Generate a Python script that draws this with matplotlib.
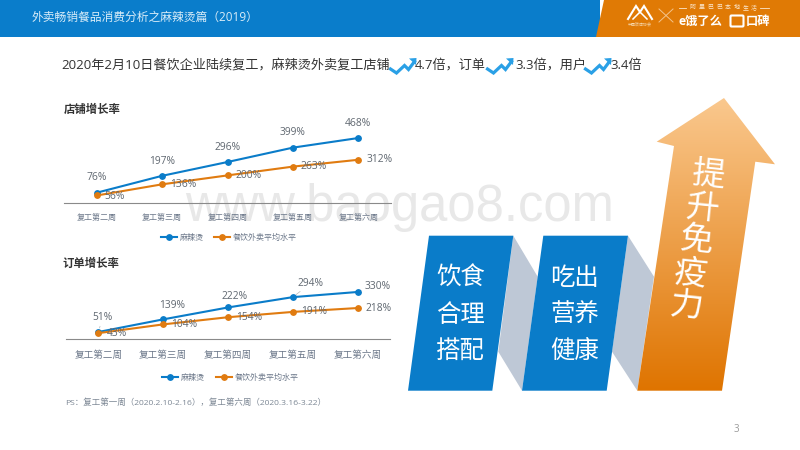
import numpy as np
import matplotlib
matplotlib.use('Agg')
import matplotlib.pyplot as plt
from matplotlib.patches import Polygon, Rectangle, FancyBboxPatch

plt.rcParams['font.family'] = ['Open Sans', 'Noto Sans CJK SC', 'DejaVu Sans']

# ---------- data ----------
weeks = ['复工第二周', '复工第三周', '复工第四周', '复工第五周', '复工第六周']
series_names = ['麻辣烫', '餐饮外卖平均水平']
store_mala = [76, 197, 296, 399, 468]
store_avg = [56, 136, 200, 263, 312]
order_mala = [51, 139, 222, 294, 330]
order_avg = [43, 104, 154, 191, 218]
stage_one = ['饮食', '合理', '搭配']
stage_two = ['吃出', '营养', '健康']
stage_three = '提升免疫力'

BLUE = '#0A7CC9'
ORANGE = '#E07B10'
HEAD_BLUE = '#0A7DCB'
HEAD_ORANGE = '#E07A05'
TEXT = '#333333'
LABEL = '#5F6770'
TICK = '#6B7789'

W, H = 800, 450
fig = plt.figure(figsize=(8, 4.5), dpi=100, facecolor='white')

# page layer in pixel coordinates
bg = fig.add_axes([0, 0, 1, 1], zorder=0)
bg.set_xlim(0, W)
bg.set_ylim(H, 0)
bg.axis('off')

def ptext(x, y, s, size, color=TEXT, ha='left', va='center', ax=bg, **kw):
    return ax.text(x, y, s, fontsize=size, color=color, ha=ha, va=va, **kw)

# watermark
ptext(400, 208, 'www.baogao8.com', 36.5, color='#E8E8E8', ha='center', family=['Liberation Sans'])

# header
bg.add_patch(Rectangle((0, 0), 600, 36.5, color=HEAD_BLUE, lw=0))
bg.add_patch(Polygon([(604, 0), (800, 0), (800, 36.5), (596, 36.5)], color=HEAD_ORANGE, lw=0))
ptext(32, 17.5, '外卖畅销餐品消费分析之麻辣烫篇（2019）', 8.5, color='#D8ECF8')

# logos
bg.plot([628, 636, 640, 644, 652], [19, 6, 12, 6, 19], color='white', lw=1.5, solid_joinstyle='miter')
bg.plot([633, 640, 647], [19, 12, 19], color='white', lw=1.1)
ptext(640, 25.5, '中国饭店协会', 2.9, color='#F6D9B0', ha='center')
bg.plot([659, 673], [9, 22], color='#F3C48C', lw=0.7)
bg.plot([659, 673], [22, 9], color='#F3C48C', lw=0.7)
for i, ch in enumerate('阿里巴巴本地生活'):
    ptext(692.5 + 8.8 * i, 7.5, ch, 4.3, color='#FBE6CC', ha='center')
bg.plot([679, 686], [7.5, 7.5], color='#FBE6CC', lw=0.6)
bg.plot([760, 769], [7.5, 7.5], color='#FBE6CC', lw=0.6)
ptext(678.5, 21, 'e饿了么', 8.8, color='white', weight='bold')
bg.add_patch(FancyBboxPatch((731.5, 16.5), 11, 9, boxstyle='round,pad=1', fc='none', ec='white', lw=1.5))
ptext(746, 21, '口碑', 8.8, color='white', weight='bold')

# headline with trend icons
headline_y = 65.5
ptext(61, headline_y, '2020年2月10日餐饮企业陆续复工，麻辣烫外卖复工店铺', 9.45)
ptext(415, headline_y, '4.7倍，订单', 9.45)
ptext(515, headline_y, '3.3倍，用户', 9.45)
ptext(610.7, headline_y, '3.4倍', 9.45)

def trend_icon(x0, y0):
    xs = np.array([0, 6, 14, 18, 24]) + x0
    ys = np.array([11, 15, 7.5, 11.5, 3.5]) + y0
    bg.plot(xs, ys, color='#2AA0E6', lw=2.3, solid_joinstyle='miter')
    bg.add_patch(Polygon([(x0 + 18.5, y0 + 0.5), (x0 + 26, y0), (x0 + 25.5, y0 + 7)], color='#2AA0E6', lw=0))

trend_icon(390.5, 58)
trend_icon(487.5, 58)
trend_icon(585.5, 58)

ptext(64, 110, '店铺增长率', 8.2, weight='bold')
ptext(62, 264, '订单增长率', 8.2, weight='bold')
ptext(65, 403, 'PS：复工第一周（2020.2.10-2.16），复工第六周（2020.3.16-3.22）', 6.1, color='#7C8794')
ptext(736, 429.5, '3', 7, color='#9A9A9A', ha='center')

# stage blocks
bg.add_patch(Polygon([(513.3, 235.7), (537.7, 276.7), (522, 390.7), (498.3, 351.7)], color='#BEC8D6', lw=0, zorder=2))
bg.add_patch(Polygon([(628, 235.7), (654, 276.7), (637.3, 390.7), (612, 351.7)], color='#BEC8D6', lw=0, zorder=2))
bg.add_patch(Polygon([(429, 235.7), (513.3, 235.7), (492.3, 390.7), (408, 390.7)], color=BLUE, lw=0, zorder=3))
bg.add_patch(Polygon([(543.3, 235.7), (628, 235.7), (606.7, 390.7), (522, 390.7)], color=BLUE, lw=0, zorder=3))

# gradient arrow
arrow = Polygon([(724, 98), (656.7, 141.7), (674, 146), (637.3, 390.7), (722, 390.7),
                 (755.3, 161.7), (775, 164.3)], closed=True, fc='none', ec='none',
                transform=bg.transData)
bg.add_patch(arrow)
top = np.array([250, 200, 142]) / 255
bot = np.array([223, 116, 0]) / 255
t = np.linspace(0, 1, 256)[:, None, None]
grad = (top[None, None, :] * (1 - t) + bot[None, None, :] * t)
im = bg.imshow(grad, extent=(630, 780, 391, 98), aspect='auto', zorder=3, interpolation='bilinear')
im.set_clip_path(arrow)
bg.set_xlim(0, W)
bg.set_ylim(H, 0)

for lines, cx in ((stage_one, 460.3), (stage_two, 575)):
    for s, cy in zip(lines, (278, 315, 351)):
        ptext(cx, cy, s, 17.6, color='white', ha='center', zorder=5, family=['Noto Sans CJK SC'], weight='light')

for i, ch in enumerate(stage_three):
    ptext(708 - 5.6 * i, 176 + 32.7 * i, ch, 24, color='white', ha='center', rotation=-6,
          zorder=5, family=['Noto Sans CJK SC'], weight='light')


def chart(left, right, top_px, base_px, px_per_unit, a, b, tick_size, legend_y, legend_x,
          a_off, b_off, tick_pad, leaders=()):
    ax = fig.add_axes([left / W, 1 - base_px / H, (right - left) / W, (base_px - top_px) / H], zorder=2)
    ax.patch.set_alpha(0)
    x = np.arange(len(weeks))
    ax.plot(x, a, color=BLUE, lw=1.5, marker='o', ms=3.9, label=series_names[0], zorder=3)
    ax.plot(x, b, color=ORANGE, lw=1.5, marker='o', ms=3.9, label=series_names[1], zorder=4)
    ax.set_xlim(-0.5, 4.5)
    ax.set_ylim(0, (base_px - top_px) / px_per_unit)
    ax.set_xticks(x, weeks)
    ax.set_yticks([])
    ax.tick_params(axis='x', length=0, pad=tick_pad, labelsize=tick_size, labelcolor=TICK)
    for s in ('top', 'left', 'right'):
        ax.spines[s].set_visible(False)
    ax.spines['bottom'].set_color('#8A8A8A')
    ax.spines['bottom'].set_linewidth(0.8)
    for xi, v, (dx, dy) in zip(x, a, a_off):
        props = dict(arrowstyle='-', color='#B5B5B5', lw=0.5, shrinkA=0, shrinkB=3) if xi in leaders else None
        ax.annotate(f'{v}%', (xi, v), xytext=(dx * 0.72, dy * 0.72), textcoords='offset points',
                    ha='center', va='center', fontsize=7.4, color=LABEL, zorder=6, arrowprops=props)
    for xi, v, (dx, dy) in zip(x, b, b_off):
        ax.annotate(f'{v}%', (xi, v), xytext=(dx * 0.72, dy * 0.72), textcoords='offset points',
                    ha='left', va='center', fontsize=7.4, color=LABEL, zorder=6)
    ax.legend(loc='center', bbox_to_anchor=(legend_x, legend_y), bbox_transform=bg.transData,
              ncol=2, frameon=False, fontsize=5.8, labelcolor=TICK, handlelength=2.0,
              handletextpad=0.35, columnspacing=1.3, borderpad=0, borderaxespad=0)
    return ax


chart(64, 391, 112, 203.3, 0.1395, store_mala, store_avg, 5.8, 237.7, 229,
      [(0, 14.7)] * 5,
      [(8, -1), (8, 0), (8, 0), (8, 0), (8, 0)], 7.5)
ax2 = chart(66, 390, 268, 339.3, 0.1434, order_mala, order_avg, 6.9, 377.5, 230.5,
      [(4, 14), (9, 14), (7, 11), (18, 14), (20, 5)],
      [(8, 0), (8, 0), (8, 0), (8, 0), (8, 0)], 8, leaders=(0, 3, 4))

fig.savefig('out.png', dpi=100)
